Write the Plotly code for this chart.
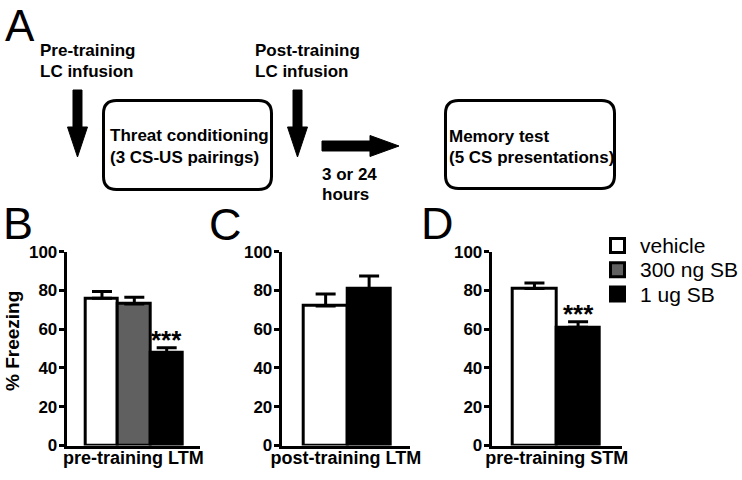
import plotly.graph_objects as go

W, H = 742, 480

# ---------------- data ----------------
groups_B = ["vehicle", "300 ng SB", "1 ug SB"]
freeze_B = [76, 73, 48]
sem_B = [3.5, 3.5, 2.5]

groups_C = ["vehicle", "1 ug SB"]
freeze_C = [72, 81]
sem_C = [6.2, 6.4]

groups_D = ["vehicle", "1 ug SB"]
freeze_D = [81, 61]
sem_D = [2.9, 2.9]

panel_titles = ["pre-training LTM", "post-training LTM", "pre-training STM"]
y_ticks = [0, 20, 40, 60, 80, 100]
bar_colors = {"vehicle": "white", "300 ng SB": "#606060", "1 ug SB": "black"}

FONT = "Liberation Sans, Arial, Helvetica, sans-serif"


def px(x):
    return x / W


def py(y):
    return 1 - y / H


fig = go.Figure()

panels = [
    ("x", "y", groups_B, freeze_B, sem_B),
    ("x2", "y2", groups_C, freeze_C, sem_C),
    ("x3", "y3", groups_D, freeze_D, sem_D),
]
for xa, ya, groups, vals, sems in panels:
    for g, v, s in zip(groups, vals, sems):
        fig.add_trace(go.Bar(
            x=[g], y=[v], name=g, xaxis=xa, yaxis=ya,
            showlegend=False,
            marker=dict(color=bar_colors[g], line=dict(color="black", width=3)),
            error_y=dict(type="data", symmetric=False, array=[s], arrayminus=[0],
                         color="black", thickness=3, width=10),
            hoverinfo="skip",
        ))

y_dom = [py(445.5), py(251.7)]
x_doms = [[px(66.7), px(200)], [px(281.7), px(410)], [px(491.7), px(621.7)]]
x_ranges = [[-1.09, 3.03], [-1.01, 1.94], [-0.98, 2.0]]
cat_arrays = [groups_B, groups_C, groups_D]

layout_axes = {}
for i in range(3):
    sfx = "" if i == 0 else str(i + 1)
    layout_axes["xaxis" + sfx] = dict(
        domain=x_doms[i], anchor="y" + sfx, type="category",
        categoryorder="array", categoryarray=cat_arrays[i],
        range=x_ranges[i], showticklabels=False, ticks="",
        showline=True, linecolor="black", linewidth=3, showgrid=False,
        zeroline=False, fixedrange=True, automargin=False,
        title=dict(text=panel_titles[i], standoff=4,
                   font=dict(family=FONT, size=18, color="black", weight="bold")),
    )
    layout_axes["yaxis" + sfx] = dict(
        domain=y_dom, anchor="x" + sfx, range=[0, 100],
        tickvals=y_ticks, ticks="outside", ticklen=5, tickwidth=3,
        tickcolor="black", showline=True, linecolor="black", linewidth=3,
        showgrid=False, zeroline=False, fixedrange=True, automargin=False,
        ticklabelstandoff=-2,
        tickfont=dict(family=FONT, size=17, color="black", weight="bold"),
    )

fig.update_layout(
    width=W, height=H, margin=dict(l=0, r=0, t=0, b=0, pad=0, autoexpand=False),
    autosize=False,
    paper_bgcolor="white", plot_bgcolor="white",
    barmode="overlay", bargap=0,
    showlegend=False,
    **layout_axes,
)

# significance stars
fig.add_annotation(x="1 ug SB", y=freeze_B[2] + sem_B[2], xref="x", yref="y",
                   text="***", showarrow=False, yanchor="bottom", yshift=-9,
                   font=dict(family=FONT, size=26, color="black", weight="bold"))
fig.add_annotation(x="1 ug SB", y=freeze_D[1] + sem_D[1], xref="x3", yref="y3",
                   text="***", showarrow=False, yanchor="bottom", yshift=-9,
                   font=dict(family=FONT, size=26, color="black", weight="bold"))

# y title
fig.add_annotation(x=px(12), y=py(341), xref="paper", yref="paper",
                   text="% Freezing", textangle=-90, showarrow=False,
                   xanchor="center", yanchor="middle",
                   font=dict(family=FONT, size=19, color="black", weight="bold"))

# panel letters
fig.add_annotation(x=px(19.5), y=1, xref="paper", yref="paper",
                   text="A", showarrow=False, xanchor="center", yanchor="top",
                   borderpad=0,
                   font=dict(family=FONT, size=44, color="black"))
for letter, cx, cy in [("B", 18, 223), ("C", 225, 224), ("D", 437, 223)]:
    fig.add_annotation(x=px(cx), y=py(cy), xref="paper", yref="paper",
                       text=letter, showarrow=False, xanchor="center", yanchor="middle",
                       font=dict(family=FONT, size=45, color="black"))

# schematic texts
schema_texts = [
    ("Pre-training", 40, 51), ("LC infusion", 40, 71),
    ("Post-training", 255, 51), ("LC infusion", 255, 71),
    ("Threat conditioning", 110, 135.5), ("(3 CS-US pairings)", 110, 157),
    ("3 or 24", 322, 174), ("hours", 322, 194),
    ("Memory test", 449, 136.5), ("(5 CS presentations)", 449, 157),
]
for t, lx, cy in schema_texts:
    fig.add_annotation(x=px(lx), y=py(cy), xref="paper", yref="paper",
                       text=t, showarrow=False, xanchor="left", yanchor="middle",
                       xshift=-2,
                       font=dict(family=FONT, size=17, color="black", weight="bold"))


def path(points):
    return "M " + " L ".join(f"{px(a):.5f},{py(b):.5f}" for a, b in points) + " Z"


def rounded_box(x0, y0, x1, y1, r):
    rx, ry = r / W, r / H
    X0, X1 = px(x0), px(x1)
    Y0, Y1 = py(y0), py(y1)  # Y0 top (higher), Y1 bottom
    return (f"M {X0 + rx:.5f},{Y0:.5f} L {X1 - rx:.5f},{Y0:.5f} "
            f"Q {X1:.5f},{Y0:.5f} {X1:.5f},{Y0 - ry:.5f} "
            f"L {X1:.5f},{Y1 + ry:.5f} Q {X1:.5f},{Y1:.5f} {X1 - rx:.5f},{Y1:.5f} "
            f"L {X0 + rx:.5f},{Y1:.5f} Q {X0:.5f},{Y1:.5f} {X0:.5f},{Y1 + ry:.5f} "
            f"L {X0:.5f},{Y0 - ry:.5f} Q {X0:.5f},{Y0:.5f} {X0 + rx:.5f},{Y0:.5f} Z")


shapes = []
# down arrows
for cx in (77.5, 297.5):
    pts = [(cx - 4.5, 90), (cx + 4.5, 90), (cx + 4.5, 127), (cx + 10, 127),
           (cx, 157), (cx - 10, 127), (cx - 4.5, 127)]
    shapes.append(dict(type="path", xref="paper", yref="paper", path=path(pts),
                       fillcolor="black", line=dict(color="black", width=1)))
# right arrow
pts = [(322, 141), (370, 141), (370, 135.5), (399, 146), (370, 156.5), (370, 151), (322, 151)]
shapes.append(dict(type="path", xref="paper", yref="paper", path=path(pts),
                   fillcolor="black", line=dict(color="black", width=1)))
# rounded boxes
for b in [(103.5, 100.5, 271.5, 189.5), (445.5, 100.5, 614.5, 188.5)]:
    shapes.append(dict(type="path", xref="paper", yref="paper",
                       path=rounded_box(*b, 13), fillcolor="rgba(0,0,0,0)",
                       line=dict(color="black", width=3)))

# legend (swatches + labels), built from the group list and colours
for k, g in enumerate(groups_B):
    cy = 245.5 + 24.3 * k
    shapes.append(dict(type="rect", xref="paper", yref="paper",
                       x0=px(610.5), x1=px(624.5), y0=py(cy + 7), y1=py(cy - 7),
                       fillcolor=bar_colors[g], line=dict(color="black", width=3)))
    fig.add_annotation(x=px(640), y=py(cy), xref="paper", yref="paper",
                       text=g, showarrow=False, xanchor="left", yanchor="middle",
                       xshift=-2,
                       font=dict(family=FONT, size=21, color="black"))

fig.update_layout(shapes=shapes)

fig.write_html("out.html", config={"displayModeBar": False},
               post_script="document.body.style.margin='0';document.body.style.overflow='hidden';")
